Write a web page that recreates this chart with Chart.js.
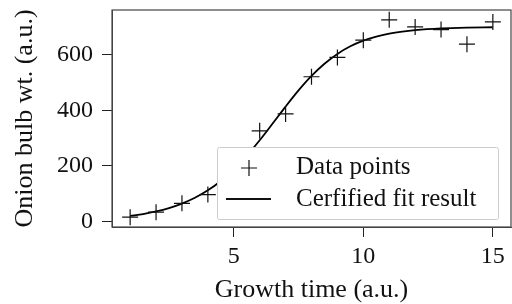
<!DOCTYPE html>
<html>
<head>
<meta charset="utf-8">
<script src="https://cdn.jsdelivr.net/npm/chart.js@4"></script>
<style>
  html, body { margin: 0; padding: 0; background: #fff; }
  #wrap { width: 512px; height: 304px; }
</style>
</head>
<body>
<div id="wrap"><canvas id="myChart"></canvas></div>
<script>
// measured points
const timeX = [1, 2, 3, 4, 5, 6, 7, 8, 9, 10, 11, 12, 13, 14, 15]
const bulbWt = [16.08, 33.83, 65.80, 97.20, 191.55, 326.20, 386.87, 520.53, 590.03, 651.92, 724.93, 699.56, 689.96, 637.56, 717.41]

// fit curve
const fitX = [1, 1.5, 2, 2.5, 3, 3.5, 4, 4.5, 5, 5.5, 6, 6.5, 7, 7.5, 8, 8.5, 9, 9.5, 10, 10.5, 11, 11.5, 12, 13, 14, 15]
const fitY = [20.3, 27.2, 36.4, 48.6, 64.7, 85.5, 112.3, 146.1, 187.5, 236.7, 292.4, 352.4, 413.3, 471.4, 523.4, 567.3, 602.7, 629.9, 650.2, 664.9, 675.5, 682.9, 688.1, 694.2, 697.1, 698.4]

const xTicks = [5, 10, 15]
const yTicks = [0, 200, 400, 600]
const legendLabels = ['Data points', 'Cerfified fit result']

const FONT = "'Liberation Serif', 'Times New Roman', serif"

// no extra room for half tick labels, the frame goes edge to edge
function noPad(s) {
  s.paddingTop = 0
  s.paddingBottom = 0
  s.paddingLeft = 0
  s.paddingRight = 0
}

// legend drawn on top of the data, like the boxed one in the reference
const boxLegend = {
  id: 'boxLegend',
  afterDatasetsDraw(chart) {
    const c = chart.ctx
    const x0 = 217, y0 = 147, w = 281, h = 72
    c.save()
    c.fillStyle = '#fff'
    c.strokeStyle = '#cccccc'
    c.lineWidth = 1
    c.beginPath()
    c.roundRect(x0 + 0.5, y0 + 0.5, w, h, 2)
    c.fill()
    c.stroke()

    // marker
    c.strokeStyle = '#111'
    c.lineWidth = 1.2
    c.beginPath()
    c.moveTo(241, 168); c.lineTo(257, 168)
    c.moveTo(249, 160); c.lineTo(249, 176)
    c.stroke()
    // line sample
    c.lineWidth = 1.8
    c.beginPath()
    c.moveTo(226, 199); c.lineTo(271, 199)
    c.stroke()

    c.fillStyle = '#111'
    c.font = '25px ' + FONT
    c.textBaseline = 'middle'
    c.fillText(legendLabels[0], 296, 167)
    c.fillText(legendLabels[1], 296, 199)
    c.restore()
  },
  afterDraw(chart) {
    const a = chart.chartArea
    const c = chart.ctx
    c.save()
    c.strokeStyle = '#444'
    c.lineWidth = 1.2
    c.strokeRect(a.left, a.top, a.right - a.left, a.bottom - a.top)
    c.restore()
  }
}

const ctx = document.getElementById('myChart')
new Chart(ctx, {
  type: 'scatter',
  data: {
    datasets: [
      {
        label: legendLabels[0],
        data: timeX.map((x, i) => ({ x: x, y: bulbWt[i] })),
        pointStyle: 'cross',
        pointRadius: 8,
        pointBorderWidth: 1.2,
        borderColor: '#111',
        backgroundColor: '#111',
        showLine: false,
        order: 1
      },
      {
        label: legendLabels[1],
        data: fitX.map((x, i) => ({ x: x, y: fitY[i] })),
        showLine: true,
        pointRadius: 0,
        borderColor: '#000',
        borderWidth: 1.8,
        cubicInterpolationMode: 'monotone',
        order: 2
      }
    ]
  },
  options: {
    responsive: true,
    maintainAspectRatio: false,
    animation: false,
    layout: { autoPadding: false, padding: { top: 10, right: 1, left: 0, bottom: 0 } },
    plugins: {
      legend: { display: false },
      tooltip: { enabled: false }
    },
    scales: {
      x: {
        type: 'linear',
        min: 0.3,
        max: 15.7,
        afterBuildTicks: s => { s.ticks = xTicks.map(v => ({ value: v })) },
        afterFit: s => { s.height = 77; noPad(s) },
        grid: { drawOnChartArea: false, drawTicks: true, tickLength: 10, color: '#222' },
        border: { display: true, color: '#444' },
        ticks: { color: '#111', padding: 5, maxRotation: 0, font: { family: FONT, size: 24 } },
        title: {
          display: true,
          text: 'Growth time (a.u.)',
          color: '#111',
          padding: { top: 0, bottom: -2 },
          font: { family: FONT, size: 26 }
        }
      },
      y: {
        type: 'linear',
        min: -19.36,
        max: 760.37,
        afterBuildTicks: s => { s.ticks = yTicks.map(v => ({ value: v })) },
        afterFit: s => { s.width = 112; noPad(s) },
        grid: { drawOnChartArea: false, drawTicks: true, tickLength: 10, color: '#222' },
        border: { display: true, color: '#444' },
        ticks: { color: '#111', padding: 9, font: { family: FONT, size: 24 } },
        title: {
          display: true,
          text: 'Onion bulb wt. (a.u.)',
          color: '#111',
          padding: { top: 10, bottom: 0 },
          font: { family: FONT, size: 26 }
        }
      }
    }
  },
  plugins: [boxLegend]
})
</script>
</body>
</html>
